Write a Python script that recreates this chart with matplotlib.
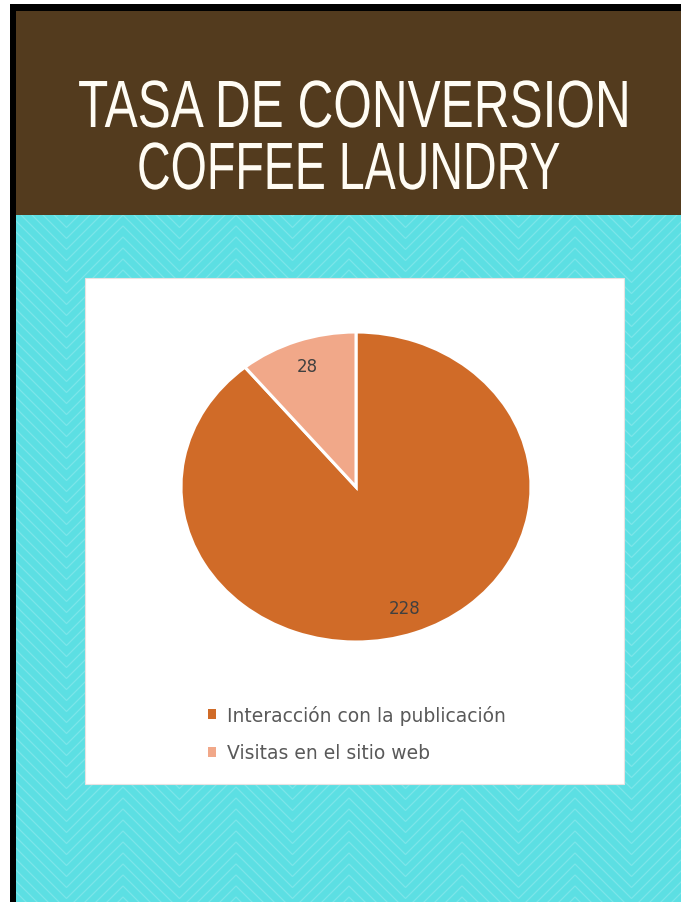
import numpy as np
import matplotlib
matplotlib.use("Agg")
import matplotlib.pyplot as plt
from matplotlib.patches import Rectangle
from matplotlib.patheffects import AbstractPathEffect
from matplotlib.transforms import Affine2D

# ---- chart data ----
categories = ["Interacción con la publicación", "Visitas en el sitio web"]
values = [228, 28]
slice_colors = ["#D06B28", "#F1A889"]

title_lines = ["TASA DE CONVERSION", "COFFEE LAUNDRY"]

W, H = 681, 903
DPI = 100
fig = plt.figure(figsize=(W / DPI, H / DPI), dpi=DPI)
fig.patch.set_facecolor("white")

# ---- page background, drawn in pixel coordinates ----
bg = fig.add_axes([0, 0, 1, 1])
bg.set_xlim(0, W)
bg.set_ylim(H, 0)
bg.axis("off")

BROWN = "#533B1E"
CYAN = "#5CDFE3"

bg.add_patch(Rectangle((10, 5), W - 10, H - 5, facecolor="black", lw=0, zorder=0))
bg.add_patch(Rectangle((16, 12), W - 16, 204, facecolor=BROWN, lw=0, zorder=1))
cyan_rect = Rectangle((16, 216), W - 16, H - 216, facecolor=CYAN, lw=0, zorder=1)
bg.add_patch(cyan_rect)

# chevron texture on the cyan panel
period = 113.0
apex_x = 123.0
half = period / 2
idx = np.arange(-4, 16)
xs = apex_x + half * idx
offs = np.where(idx % 2 == 0, 0.0, half)
for base in np.arange(150, H + 80, 11.0):
    ln, = bg.plot(xs, base + offs, color="#9BEDF0", lw=0.9, alpha=0.5,
                  solid_joinstyle="miter", zorder=2)
    ln.set_clip_path(cyan_rect)

# white chart card
bg.add_patch(Rectangle((85, 279), 539, 506, facecolor="white",
                       edgecolor="#E8E2E2", lw=0.8, zorder=3))


# condensed title lettering: scale glyph outlines about the baseline centre
class GlyphScale(AbstractPathEffect):
    def __init__(self, sx, sy, cx, cy):
        super().__init__()
        self.sx, self.sy, self.cx, self.cy = sx, sy, cx, cy

    def draw_path(self, renderer, gc, tpath, affine, rgbFace=None):
        t = affine + (Affine2D().translate(-self.cx, -self.cy)
                      .scale(self.sx, self.sy).translate(self.cx, self.cy))
        renderer.draw_path(gc, tpath, t, rgbFace)


title_font = ["Liberation Sans Narrow", "Liberation Sans", "DejaVu Sans"]
title_specs = [(title_lines[0], 354, 128, 552), (title_lines[1], 348.5, 190, 423)]
base_size = 30
target_cap = 46.0
cap_ratio = 0.688  # cap height / em for Liberation Sans
renderer = fig.canvas.get_renderer()
for txt, cx, base_y, target_w in title_specs:
    t = bg.text(cx, base_y, txt, ha="center", va="baseline", color="#FFFCF4",
                fontsize=base_size, family=title_font, zorder=5)
    ext = t.get_window_extent(renderer)
    sx = target_w / ext.width
    sy = target_cap / (cap_ratio * base_size * DPI / 72)
    t.set_path_effects([GlyphScale(sx, sy, (ext.x0 + ext.x1) / 2, H - base_y)])

# ---- pie ----
cx, cy, rx, ry = 356, 488, 175, 155
pax = fig.add_axes([(cx - rx) / W, (H - cy - ry) / H, 2 * rx / W, 2 * ry / H])
total = sum(values)
body_font = ["DejaVu Sans"]
wedges, _, autotexts = pax.pie(
    values, colors=slice_colors, startangle=90, counterclock=False,
    radius=1.0, autopct=lambda p: f"{round(p * total / 100)}",
    pctdistance=0.83, wedgeprops=dict(edgecolor="white", linewidth=2.2),
    textprops=dict(color="#404040", fontsize=12, family=body_font),
)
pax.set_aspect("auto")
pax.set_xlim(-1, 1)
pax.set_ylim(-1, 1)

leg = fig.legend(
    wedges, categories, loc="upper left",
    bbox_to_anchor=(208 / W, 1 - 706 / H), frameon=False,
    prop=dict(family=body_font, size=13.5),
    handlelength=0.43, handleheight=0.43, handletextpad=0.6,
    labelspacing=0.98, borderpad=0, borderaxespad=0,
)
for lt in leg.get_texts():
    lt.set_color("#595959")
for h in leg.legend_handles:
    h.set_edgecolor("none")

fig.savefig("out.png", dpi=DPI, facecolor="white")
